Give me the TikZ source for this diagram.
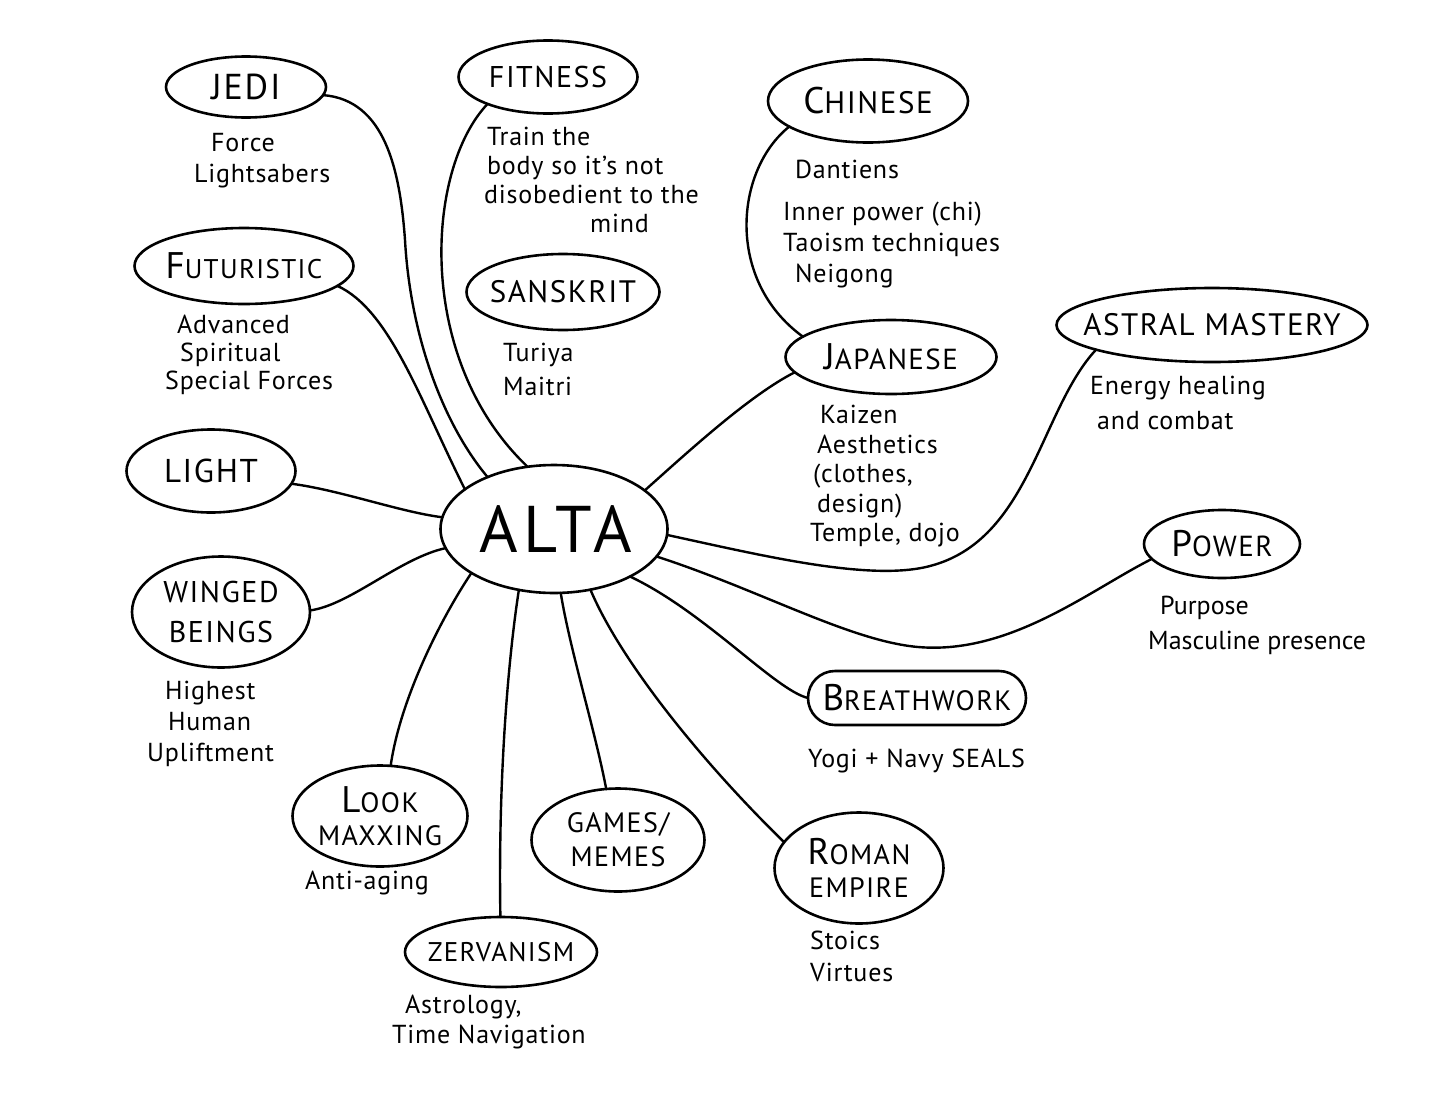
\documentclass[tikz,border=0pt]{standalone}
\usepackage{fontspec}
\setmainfont{PT Sans}
\newfontfamily\labfont{PT Sans}[LetterSpace=5]
\newfontfamily\altafont{PT Sans}[LetterSpace=9]
\newfontfamily\notefont{PT Sans}[LetterSpace=3]
\usetikzlibrary{shapes.geometric}
\newcommand{\bigI}[1]{{\fontsize{37}{37}\selectfont #1}}
\begin{document}
\begin{tikzpicture}[x=1pt,y=-1pt, line cap=round, line join=round,
  bub/.style={draw, ellipse, line width=2.6pt, inner sep=0pt, outer sep=0pt},
  lab/.style={align=center, inner sep=0pt},
  note/.style={align=left, anchor=north west, inner sep=0pt},
  link/.style={draw, line width=2.4pt}]
\useasboundingbox[fill=white] (0,0) rectangle (1433,1098);

% bubbles
\node[bub, minimum width=227pt, minimum height=128pt] (alta) at (554,529) {};
\node[bub, minimum width=160pt, minimum height=61pt] (jedi) at (246,87) {};
\node[bub, minimum width=179pt, minimum height=73pt] (fit) at (548,77) {};
\node[bub, minimum width=200pt, minimum height=83pt] (chin) at (868,101) {};
\node[bub, minimum width=219pt, minimum height=76pt] (fut) at (244,266) {};
\node[bub, minimum width=193pt, minimum height=76pt] (sans) at (563,292) {};
\node[bub, minimum width=211pt, minimum height=74pt] (jap) at (891,357) {};
\node[bub, minimum width=311pt, minimum height=74pt] (astral) at (1212,325) {};
\node[bub, minimum width=169pt, minimum height=83pt] (light) at (211,471) {};
\node[bub, minimum width=178pt, minimum height=111pt] (wing) at (221,612) {};
\node[bub, minimum width=156pt, minimum height=68pt] (power) at (1222,544) {};
\node[draw, line width=2.6pt, rectangle, rounded corners=27pt, minimum width=218pt, minimum height=54pt, inner sep=0pt, outer sep=0pt] (breath) at (917,698) {};
\node[bub, minimum width=175pt, minimum height=101pt] (look) at (380,816) {};
\node[bub, minimum width=173pt, minimum height=103pt] (games) at (618,840) {};
\node[bub, minimum width=169pt, minimum height=111pt] (roman) at (859,868) {};
\node[bub, minimum width=192pt, minimum height=70pt] (zerv) at (501,952) {};

% bubble labels
\node[lab, font=\altafont\fontsize{66}{70}\selectfont] (alta-t) at (556,529) {ALTA};
\node[lab, font=\labfont\fontsize{36}{40}\selectfont] (jedi-t) at (jedi) {JEDI};
\node[lab, font=\labfont\fontsize{30}{36}\selectfont] (fit-t) at (fit) {FITNESS};
\node[lab, font=\labfont\fontsize{31}{36}\selectfont] (chin-t) at (chin) {\bigI{C}HINESE};
\node[lab, font=\labfont\fontsize{27}{36}\selectfont] (fut-t) at (fut) {\bigI{F}UTURISTIC};
\node[lab, font=\labfont\fontsize{31}{36}\selectfont] (sans-t) at (sans) {SANSKRIT};
\node[lab, font=\labfont\fontsize{29}{36}\selectfont] (jap-t) at (jap) {\bigI{J}APANESE};
\node[lab, font=\labfont\fontsize{31}{36}\selectfont] (astral-t) at (astral) {ASTRAL MASTERY};
\node[lab, font=\labfont\fontsize{33}{36}\selectfont] (light-t) at (light) {LIGHT};
\node[lab, font=\labfont\fontsize{30}{40}\selectfont] (wing-t) at (wing) {WINGED\\BEINGS};
\node[lab, font=\labfont\fontsize{29}{36}\selectfont] (power-t) at (power) {\bigI{P}OWER};
\node[lab, font=\labfont\fontsize{28}{36}\selectfont] (breath-t) at (breath) {\bigI{B}REATHWORK};
\node[lab, font=\labfont\fontsize{28}{33}\selectfont] (look-t) at (look) {\bigI{L}OOK\\MAXXING};
\node[lab, font=\labfont\fontsize{28}{34}\selectfont] (games-t) at (games) {GAMES/\\MEMES};
\node[lab, font=\labfont\fontsize{28}{33}\selectfont] (roman-t) at (roman) {\bigI{R}OMAN\\EMPIRE};
\node[lab, font=\labfont\fontsize{27}{36}\selectfont] (zerv-t) at (zerv) {ZERVANISM};

% notes
\node[note, font=\notefont\fontsize{26}{31}\selectfont] (jedi-n) at (194,133) {\hspace*{17pt}Force\\Lightsabers};
\node[note, font=\notefont\fontsize{26}{29}\selectfont] (fit-n) at (484,127) {\hspace*{3pt}Train the\\\hspace*{3pt}body so it’s not\\disobedient to the\\\hspace*{106pt}mind};
\node[note, font=\notefont\fontsize{26}{31}\selectfont] (chin-n) at (783,160) {\hspace*{12pt}Dantiens\\[11pt]Inner power (chi)\\Taoism techniques\\\hspace*{12pt}Neigong};
\node[note, font=\notefont\fontsize{26}{28}\selectfont] (fut-n) at (165,315) {\hspace*{12pt}Advanced\\\hspace*{15pt}Spiritual\\Special Forces};
\node[note, font=\notefont\fontsize{26}{34}\selectfont] (sans-n) at (503,343) {Turiya\\Maitri};
\node[note, font=\notefont\fontsize{26}{29.5}\selectfont] (jap-n) at (810,405) {\hspace*{10pt}Kaizen\\\hspace*{7pt}Aesthetics\\\hspace*{3pt}(clothes,\\\hspace*{7pt}design)\\Temple, dojo};
\node[note, font=\notefont\fontsize{26}{35}\selectfont] (astral-n) at (1090,376) {Energy healing\\\hspace*{7pt}and combat};
\node[note, font=\fontsize{26}{35}\selectfont] (power-n) at (1148,596) {\hspace*{12pt}Purpose\\Masculine presence};
\node[note, font=\notefont\fontsize{26}{31}\selectfont] (wing-n) at (147,681) {\hspace*{18pt}Highest\\\hspace*{21pt}Human\\Upliftment};
\node[note, font=\notefont\fontsize{26}{31}\selectfont] (breath-n) at (808,749) {Yogi + Navy SEALS};
\node[note, font=\notefont\fontsize{26}{31}\selectfont] (look-n) at (305,871) {Anti-aging};
\node[note, font=\notefont\fontsize{26}{32}\selectfont] (roman-n) at (810,931) {Stoics\\Virtues};
\node[note, font=\notefont\fontsize{26}{30}\selectfont] (zerv-n) at (392,995) {\hspace*{13pt}Astrology,\\Time Navigation};

% connectors
\draw[link] (jedi.-6) .. controls (385,100) and (400,170) .. (405,240)
                      .. controls (410,330) and (440,420) .. (alta.142);
\draw[link] (fut.-12) .. controls (390,310) and (420,400) .. (alta.156);
\draw[link] (fit.-156) .. controls (425,170) and (415,360) .. (alta.113);
\draw[link] (chin.-162) .. controls (735,170) and (725,280) .. (jap.167);
\draw[link] (jap.-171) .. controls (750,395) and (690,450) .. (alta.23);
\draw[link] (astral.-168) .. controls (1040,410) and (1030,540) .. (930,566)
                          .. controls (870,582) and (760,555) .. (alta.-3);
\draw[link] (power.-168) .. controls (1090,590) and (1010,655) .. (918,647)
                         .. controls (850,641) and (760,590) .. (alta.-15);
\draw[link] (alta.-32) .. controls (705,612) and (775,690) .. (breath.west);
\draw[link] (alta.-59) .. controls (620,660) and (700,760) .. (roman.161);
\draw[link] (alta.-84) .. controls (570,650) and (595,730) .. (games.103);
\draw[link] (alta.-120) .. controls (508,660) and (498,780) .. (zerv.91);
\draw[link] (alta.-152) .. controls (440,620) and (400,700) .. (look.78);
\draw[link] (alta.-170) .. controls (400,558) and (350,605) .. (wing.1);
\draw[link] (alta.174) .. controls (400,512) and (340,490) .. (light.-9);
\end{tikzpicture}
\end{document}
